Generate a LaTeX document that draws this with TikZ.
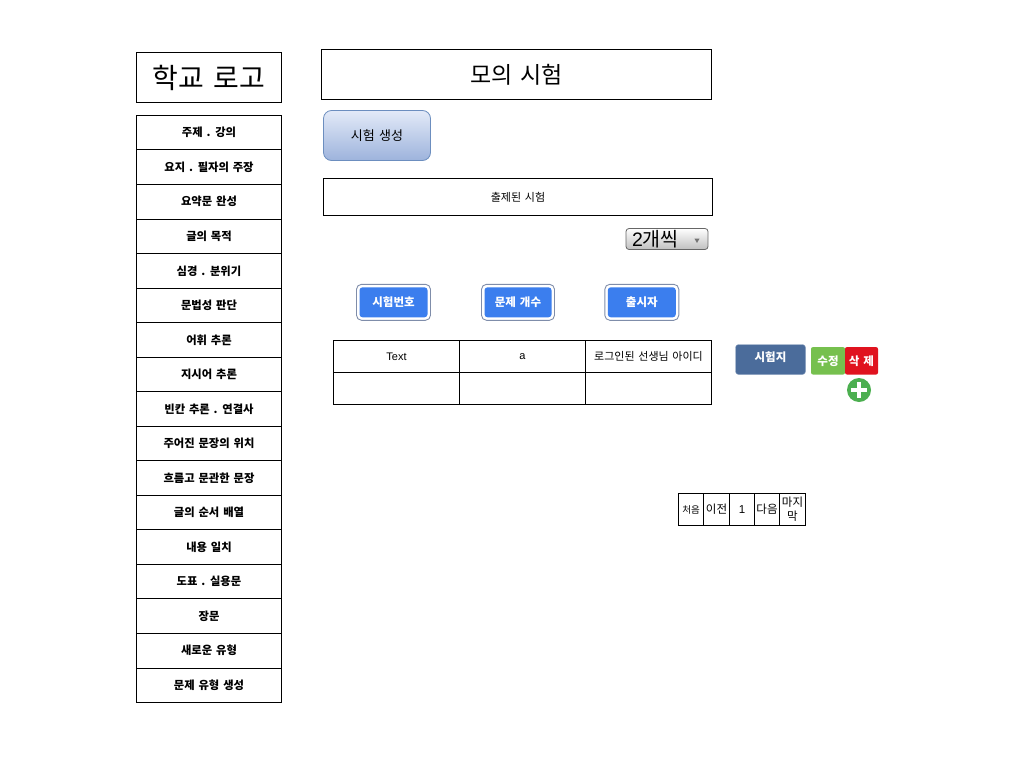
\documentclass[tikz,border=0pt]{standalone}
\usepackage{fontspec}
\setmainfont[WordSpace=1.5]{Noto Sans CJK KR}
\newfontfamily\latinfont{Liberation Sans}
\usepackage{xcolor}
\usetikzlibrary{positioning,shapes.geometric}
\definecolor{btnblue}{HTML}{3B7EEE}
\definecolor{btnedge}{HTML}{7F8DAA}
\definecolor{slateblue}{HTML}{4B6C9B}
\definecolor{editgreen}{HTML}{76C04E}
\definecolor{delred}{HTML}{E0131F}
\definecolor{plusgreen}{HTML}{4CAF50}
\definecolor{createedge}{HTML}{6C8EBF}
\definecolor{createtop}{HTML}{E3EAF8}
\definecolor{createbottom}{HTML}{9DB3DC}

\begin{document}
\begin{tikzpicture}[
  x=1pt, y=-1pt,
  box/.style={draw=black, fill=white, line width=0.9pt, outer sep=0pt, inner sep=0pt, align=center},
  menu/.style={box, minimum width=145pt, minimum height=34.54pt, font=\fontsize{11.3}{13}\selectfont\bfseries},
  cell/.style={box, minimum width=126pt, minimum height=32pt, font=\fontsize{11}{13}\selectfont},
  pagecell/.style={box, minimum height=32pt, font=\fontsize{11.5}{13}\selectfont},
  headbtn/.style={draw=btnedge, fill=white, rounded corners=5pt, line width=0.9pt, minimum height=36pt, outer sep=0pt},
  headfill/.style={fill=btnblue, rounded corners=3pt, text=white, minimum height=30pt, inner sep=0pt, outer sep=0pt, font=\fontsize{11.5}{13}\selectfont\bfseries},
  action/.style={text=white, minimum height=27.5pt, inner sep=0pt, outer sep=0pt, font=\fontsize{11.5}{13}\selectfont\bfseries},
  plusbar/.style={draw=white, line width=3.6pt, shorten >=3.8pt, shorten <=3.8pt}
]
  \useasboundingbox (0,0) rectangle (1024,768);

  % Logo and title
  \node[box, minimum width=145pt, minimum height=50pt, font=\fontsize{28}{30}\selectfont] (logo) at (209,77.5) {학교 로고};
  \node[box, minimum width=390pt, minimum height=50pt, font=\fontsize{23}{26}\selectfont] (title) at (516.5,74.5) {모의 시험};

  % Side menu
  \node[menu] (m1) at (209,132.6) {주제 . 강의};
  \node[menu, below=0pt of m1] (m2) {요지 . 필자의 주장};
  \node[menu, below=0pt of m2] (m3) {요약문 완성};
  \node[menu, below=0pt of m3] (m4) {글의 목적};
  \node[menu, below=0pt of m4] (m5) {심경 . 분위기};
  \node[menu, below=0pt of m5] (m6) {문법성 판단};
  \node[menu, below=0pt of m6] (m7) {어휘 추론};
  \node[menu, below=0pt of m7] (m8) {지시어 추론};
  \node[menu, below=0pt of m8] (m9) {빈칸 추론 . 연결사};
  \node[menu, below=0pt of m9] (m10) {주어진 문장의 위치};
  \node[menu, below=0pt of m10] (m11) {흐름고 문관한 문장};
  \node[menu, below=0pt of m11] (m12) {글의 순서 배열};
  \node[menu, below=0pt of m12] (m13) {내용 일치};
  \node[menu, below=0pt of m13] (m14) {도표 . 실용문};
  \node[menu, below=0pt of m14] (m15) {장문};
  \node[menu, below=0pt of m15] (m16) {새로운 유형};
  \node[menu, below=0pt of m16] (m17) {문제 유형 생성};

  % Create button
  \node[draw=createedge, top color=createtop, bottom color=createbottom, rounded corners=8pt,
        line width=0.8pt, minimum width=107pt, minimum height=50pt, font=\fontsize{13}{15}\selectfont] (create) at (377,135.5) {시험 생성};

  % Listing caption and select
  \node[box, minimum width=389pt, minimum height=37pt, font=\fontsize{11}{13}\selectfont] (listing) at (518,197) {출제된 시험};
  \node[draw=black!60, top color=white, bottom color=black!25, rounded corners=3pt, line width=0.8pt,
        minimum width=82pt, minimum height=21pt, inner sep=0pt, text width=70pt,
        font=\fontsize{19.5}{22}\selectfont] (perpage) at (667,239) {{\latinfont 2}개씩};
  \node[regular polygon, regular polygon sides=3, shape border rotate=180, fill=black!55, inner sep=0pt, minimum size=6pt] (perarrow) at (697,240) {};

  % Column buttons
  \node[headbtn, minimum width=74pt] (h1) at (393.5,302.3) {};
  \node[headbtn, minimum width=73pt] (h2) at (518,302.3) {};
  \node[headbtn, minimum width=74pt] (h3) at (641.8,302.3) {};
  \node[headfill, minimum width=68pt] (h1t) at (h1) {시험번호};
  \node[headfill, minimum width=67pt] (h2t) at (h2) {문제 개수};
  \node[headfill, minimum width=68pt] (h3t) at (h3) {출시자};

  % Table
  \node[cell] (c11) at (396.5,356.5) {\latinfont Text};
  \node[cell, right=0pt of c11] (c12) {\latinfont a};
  \node[cell, right=0pt of c12] (c13) {로그인된 선생님 아이디};
  \node[cell, below=0pt of c11] (c21) {};
  \node[cell, below=0pt of c12] (c22) {};
  \node[cell, below=0pt of c13] (c23) {};

  % Row actions
  \node[draw=slateblue!60, fill=slateblue, rounded corners=3pt, text=white, minimum width=70pt, minimum height=30pt,
        inner sep=0pt, text depth=5pt, font=\fontsize{11.5}{13}\selectfont\bfseries] (paper) at (770.5,359.5) {시험지};
  \node[action, fill=editgreen, rounded corners=2pt, minimum width=34pt] (edit) at (828,360.8) {수정};
  \node[action, fill=delred, rounded corners=2pt, minimum width=33pt, right=0pt of edit] (del) {삭 제};
  \node[circle, fill=plusgreen, minimum size=24pt, inner sep=0pt, outer sep=0pt] (plus) at (859,390) {};
  \draw[plusbar] (plus.west) -- (plus.east);
  \draw[plusbar] (plus.north) -- (plus.south);

  % Pagination
  \node[pagecell, minimum width=25pt, font=\fontsize{9.5}{12}\selectfont] (p1) at (691,509.5) {처음};
  \node[pagecell, minimum width=26pt, right=0pt of p1] (p2) {이전};
  \node[pagecell, minimum width=25pt, right=0pt of p2] (p3) {\latinfont 1};
  \node[pagecell, minimum width=25pt, right=0pt of p3] (p4) {다음};
  \node[pagecell, minimum width=26pt, right=0pt of p4, text width=24pt] (p5) {마지\\[1pt]막};
\end{tikzpicture}
\end{document}
